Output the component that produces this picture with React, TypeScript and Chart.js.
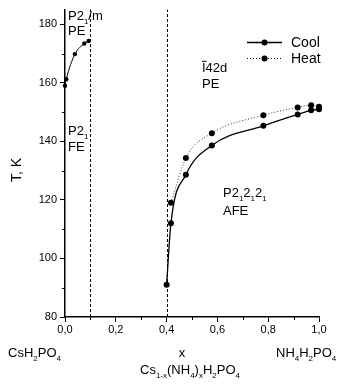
import React, { useEffect, useRef } from "react";
import { Chart, registerables } from "chart.js";
Chart.register(...registerables);

const coolX = [0.4, 0.417, 0.476, 0.578, 0.781, 0.916, 0.969, 1.0];
const coolT = [91, 112, 128.6, 138.6, 145.3, 149.2, 150.6, 151.0];
const heatX = [0.417, 0.476, 0.578, 0.781, 0.916, 0.969, 1.0];
const heatT = [119, 134.3, 142.8, 148.9, 151.6, 152.3, 151.8];
const leftX = [0.0, 0.005, 0.039, 0.076, 0.093];
const leftT = [159, 161.2, 169.8, 173.4, 174.3];
const boundaryX = [0.1, 0.4];
const xTicks = [0, 0.2, 0.4, 0.6, 0.8, 1.0];
const yTicks = [80, 100, 120, 140, 160, 180];

const FONT = "'Liberation Sans', Arial, sans-serif";

type Seg = { t: string; sub?: boolean; over?: boolean };

function drawRich(ctx: CanvasRenderingContext2D, segs: Seg[], x: number, y: number, size: number, align: "left" | "center" = "left") {
  const subSize = Math.round(size * 0.65);
  const widths = segs.map((s) => {
    ctx.font = `${s.sub ? subSize : size}px ${FONT}`;
    return ctx.measureText(s.t).width;
  });
  const total = widths.reduce((a, b) => a + b, 0);
  let cx = align === "center" ? x - total / 2 : x;
  ctx.textBaseline = "alphabetic";
  ctx.textAlign = "left";
  segs.forEach((s, i) => {
    ctx.font = `${s.sub ? subSize : size}px ${FONT}`;
    ctx.fillText(s.t, cx, s.sub ? y + size * 0.3 : y);
    if (s.over) {
      ctx.beginPath();
      ctx.lineWidth = 1;
      ctx.moveTo(cx, y - size * 0.82);
      ctx.lineTo(cx + widths[i] + 1, y - size * 0.82);
      ctx.stroke();
    }
    cx += widths[i];
  });
}

const decor = {
  id: "decor",
  beforeDatasetsDraw(chart: any) {
    const ctx = chart.ctx as CanvasRenderingContext2D;
    const xs = chart.scales.x;
    const ys = chart.scales.y;
    const area = chart.chartArea;
    ctx.save();
    ctx.strokeStyle = "#000";
    ctx.lineWidth = 1;
    ctx.setLineDash([3, 2]);
    boundaryX.forEach((v) => {
      const px = Math.round(xs.getPixelForValue(v)) + 0.5;
      ctx.beginPath();
      ctx.moveTo(px, area.bottom);
      ctx.lineTo(px, area.top);
      ctx.stroke();
    });
    ctx.setLineDash([]);
    for (let v = 0.1; v < 1.0; v += 0.2) {
      const px = Math.round(xs.getPixelForValue(v)) + 0.5;
      ctx.beginPath();
      ctx.moveTo(px, area.bottom);
      ctx.lineTo(px, area.bottom + 3);
      ctx.stroke();
    }
    for (let v = 90; v <= 170; v += 20) {
      const py = Math.round(ys.getPixelForValue(v)) + 0.5;
      ctx.beginPath();
      ctx.moveTo(area.left, py);
      ctx.lineTo(area.left - 3, py);
      ctx.stroke();
    }
    ctx.restore();
  },
  afterDraw(chart: any) {
    const ctx = chart.ctx as CanvasRenderingContext2D;
    ctx.save();
    ctx.fillStyle = "#000";
    ctx.strokeStyle = "#000";
    drawRich(ctx, [{ t: "P2" }, { t: "1", sub: true }, { t: "/m" }], 68, 20, 13);
    drawRich(ctx, [{ t: "PE" }], 68, 35, 13);
    drawRich(ctx, [{ t: "P2" }, { t: "1", sub: true }], 68, 135, 13);
    drawRich(ctx, [{ t: "FE" }], 68, 151, 13);
    drawRich(ctx, [{ t: "I", over: true }, { t: "42d" }], 202, 72, 13);
    drawRich(ctx, [{ t: "PE" }], 202, 88, 13);
    drawRich(ctx, [{ t: "P2" }, { t: "1", sub: true }, { t: "2" }, { t: "1", sub: true }, { t: "2" }, { t: "1", sub: true }], 223, 197, 13);
    drawRich(ctx, [{ t: "AFE" }], 223, 215, 13);
    drawRich(ctx, [{ t: "CsH" }, { t: "2", sub: true }, { t: "PO" }, { t: "4", sub: true }], 8, 357, 13);
    drawRich(ctx, [{ t: "NH" }, { t: "4", sub: true }, { t: "H" }, { t: "2", sub: true }, { t: "PO" }, { t: "4", sub: true }], 276, 357, 13);
    drawRich(ctx, [{ t: "x" }], 182, 357, 13, "center");
    drawRich(ctx, [{ t: "Cs" }, { t: "1-x", sub: true }, { t: "(NH" }, { t: "4", sub: true }, { t: ")" }, { t: "x", sub: true }, { t: "H" }, { t: "2", sub: true }, { t: "PO" }, { t: "4", sub: true }], 190, 374, 13, "center");
    ctx.save();
    ctx.translate(21, 170);
    ctx.rotate(-Math.PI / 2);
    drawRich(ctx, [{ t: "T, K" }], 0, 0, 14, "center");
    ctx.restore();
    const items = [
      { label: "Cool", y: 42, dash: [] as number[], w: 1.3 },
      { label: "Heat", y: 58, dash: [1, 2], w: 1 },
    ];
    items.forEach((it) => {
      ctx.beginPath();
      ctx.setLineDash(it.dash);
      ctx.lineWidth = it.w;
      ctx.moveTo(247, it.y + 0.5);
      ctx.lineTo(282, it.y + 0.5);
      ctx.stroke();
      ctx.setLineDash([]);
      ctx.beginPath();
      ctx.arc(264.5, it.y + 0.5, 3, 0, Math.PI * 2);
      ctx.fill();
      drawRich(ctx, [{ t: it.label }], 291, it.y + 5, 14);
    });
    ctx.restore();
  },
};

export default function App() {
  const ref = useRef<HTMLCanvasElement>(null);
  useEffect(() => {
    if (!ref.current) return;
    const pts = (xs: number[], ys: number[]) => xs.map((x, i) => ({ x, y: ys[i] }));
    const chart = new Chart(ref.current, {
      type: "scatter",
      data: {
        datasets: [
          {
            label: "Cool",
            data: pts(coolX, coolT),
            showLine: true,
            borderColor: "#000",
            backgroundColor: "#000",
            borderWidth: 1.3,
            pointRadius: 3,
            pointBorderWidth: 0,
            cubicInterpolationMode: "monotone",
          },
          {
            label: "Heat",
            data: pts(heatX, heatT),
            showLine: true,
            borderColor: "#333",
            backgroundColor: "#000",
            borderWidth: 1,
            borderDash: [1, 2],
            pointRadius: 3,
            pointBorderWidth: 0,
            cubicInterpolationMode: "monotone",
          },
          {
            label: "Left",
            data: pts(leftX, leftT),
            showLine: true,
            borderColor: "#000",
            backgroundColor: "#000",
            borderWidth: 1,
            pointRadius: 2.2,
            pointBorderWidth: 0,
            cubicInterpolationMode: "monotone",
          },
        ],
      },
      options: {
        animation: false,
        responsive: false,
        devicePixelRatio: 1,
        clip: false as any,
        layout: { padding: { top: 9, right: 20, left: 0, bottom: 0 } },
        plugins: { legend: { display: false }, tooltip: { enabled: false } },
        scales: {
          x: {
            type: "linear",
            min: 0,
            max: 1,
            afterFit: (s: any) => { s.height = 71; },
            afterBuildTicks: (s: any) => { s.ticks = xTicks.map((v) => ({ value: v })); },
            ticks: {
              color: "#000",
              font: { family: FONT, size: 11 },
              padding: 1,
              maxRotation: 0,
              callback: (v: any) => Number(v).toFixed(1).replace(".", ","),
            },
            grid: { drawOnChartArea: false, drawTicks: true, tickLength: 5, color: "#000" },
            border: { display: true, color: "#000", width: 1.5 },
          },
          y: {
            type: "linear",
            min: 80,
            max: 185,
            afterFit: (s: any) => { s.width = 65; },
            afterBuildTicks: (s: any) => { s.ticks = yTicks.map((v) => ({ value: v })); },
            ticks: {
              color: "#000",
              font: { family: FONT, size: 11 },
              padding: 3,
            },
            grid: { drawOnChartArea: false, drawTicks: true, tickLength: 5, color: "#000" },
            border: { display: true, color: "#000", width: 1.5 },
          },
        },
      },
      plugins: [decor],
    });
    return () => chart.destroy();
  }, []);
  return (
    <div style={{ position: "absolute", left: 0, top: 0, width: 339, height: 388, background: "#fff" }}>
      <canvas ref={ref} width={339} height={388} />
    </div>
  );
}
